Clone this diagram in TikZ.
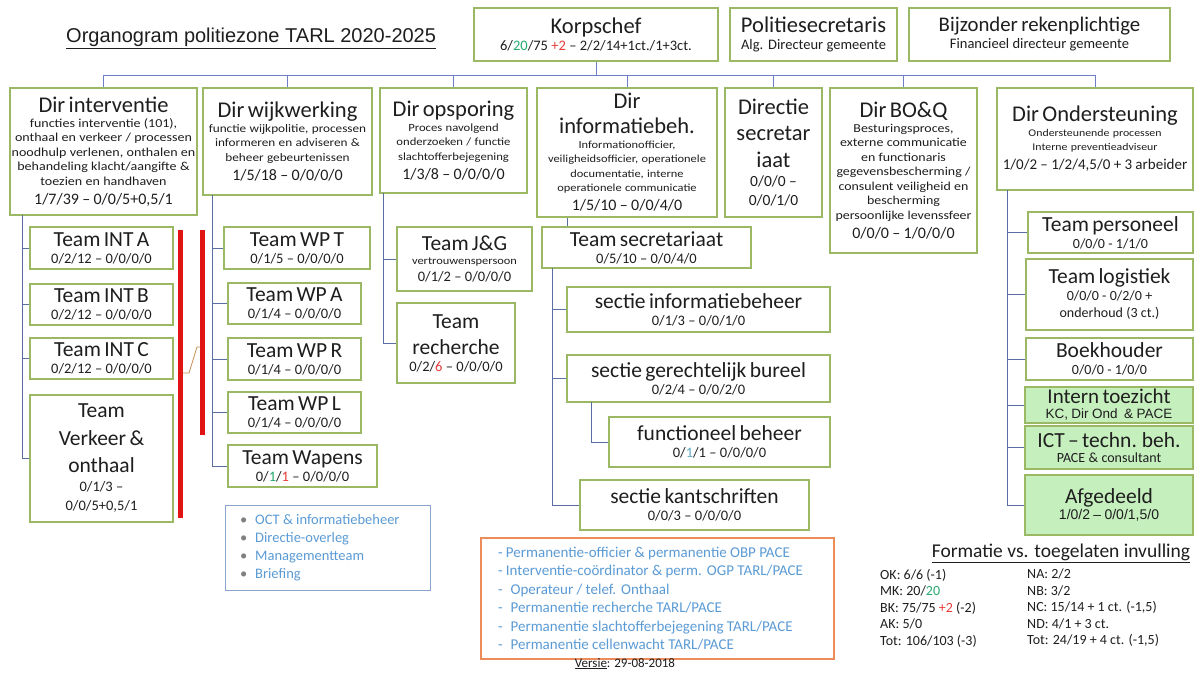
\documentclass[tikz,border=0pt]{standalone}
\usepackage{fontspec}
\setmainfont{Carlito}
\newfontfamily\arialf{Liberation Sans}
\newfontfamily\descf[FakeStretch=1.15]{Carlito}
\definecolor{boxc}{RGB}{155,185,100}
\definecolor{busc}{RGB}{110,125,200}
\definecolor{connc}{RGB}{90,110,160}
\definecolor{redbar}{RGB}{225,20,20}
\definecolor{grnfill}{RGB}{198,239,190}
\definecolor{bluet}{RGB}{91,155,213}
\definecolor{orangec}{RGB}{235,140,90}
\definecolor{blueboxc}{RGB}{140,165,205}
\definecolor{txt}{RGB}{30,30,30}
\definecolor{grn}{RGB}{40,170,110}
\definecolor{redt}{RGB}{230,60,60}
\definecolor{tealt}{RGB}{100,170,190}
\definecolor{brownl}{RGB}{200,140,80}
\tikzset{
  box/.style={draw=boxc, line width=1.1pt, fill=white, inner sep=0pt, align=center, text=txt},
  gbox/.style={box, fill=grnfill},
  bus/.style={draw=busc, line width=0.9pt},
  conn/.style={draw=connc, line width=0.8pt},
  plain/.style={inner sep=0pt, text=txt},
}
% #1 extra style, #2 name, #3 x1, #4 y1, #5 x2, #6 y2, #7 content
\newcommand\obox[7][]{%
  \pgfmathsetmacro\bw{#5-#3}\pgfmathsetmacro\bh{#6-#4}%
  \pgfmathsetmacro\bcx{(#3+#5)/2}\pgfmathsetmacro\bcy{(#4+#6)/2}%
  \pgfmathsetmacro\btw{#5-#3-2}%
  \node[box,minimum width=\bw pt,minimum height=\bh pt,text width=\btw pt,#1] (#2) at (\bcx,\bcy) {#7};}
\newcommand\tA[1]{{\fontsize{22.5}{26}\selectfont #1\par}}
\newcommand\tB[1]{{\fontsize{21.5}{25}\selectfont #1\par}}
\newcommand\dA[2][11.8]{{\descf\fontsize{#1}{14.5}\selectfont #2\par}}
\newcommand\nA[2][16]{{\fontsize{#1}{19}\selectfont #2\par}}
\newcommand\sB[1]{{\fontsize{14.5}{17}\selectfont #1\par}}
\begin{document}
\begin{tikzpicture}[x=1pt,y=-1pt]
\useasboundingbox[fill=white] (0,0) rectangle (1203,674);

\node[plain, anchor=base west, font=\arialf\fontsize{20}{23}\selectfont] (title) at (66,43) {\underline{Organogram politiezone TARL 2020-2025}};

% top row
\obox{korps}{474}{8}{718}{61}{\tA{Korpschef}\sB{6/\textcolor{grn}{20}/75 \textcolor{redt}{+2} – 2/2/14+1ct./1+3ct.}}
\obox{polsec}{730}{8}{897}{61}{\tA{Politiesecretaris}{\fontsize{14.5}{17}\selectfont Alg. Directeur gemeente\par}}
\obox{bijz}{909}{8}{1170}{61}{{\fontsize{20.8}{26}\selectfont Bijzonder rekenplichtige\par}{\fontsize{14.5}{17}\selectfont Financieel directeur gemeente\par}}

% directors
\obox{dint}{10}{88}{197}{215}{\tA{Dir interventie}\dA[12.2]{functies interventie (101),\\onthaal en verkeer / processen\\noodhulp verlenen, onthalen en\\behandeling klacht/aangifte \&\\toezien en handhaven}\nA{1/7/39 – 0/0/5+0,5/1}}
\obox{dwijk}{203}{88}{372}{195}{\tA{Dir wijkwerking}\dA[11.5]{functie wijkpolitie, processen\\informeren en adviseren \&\\beheer gebeurtenissen}\nA{1/5/18 – 0/0/0/0}}
\obox{dops}{380}{88}{527}{193}{\tA{Dir opsporing}\dA[11]{Proces navolgend\\onderzoeken / functie\\slachtofferbejegening}\nA{1/3/8 – 0/0/0/0}}
\obox{dinfo}{537}{88}{717}{217}{{\fontsize{22.5}{25}\selectfont Dir\\informatiebeh.\par}\dA[10.8]{Informationofficier,\\veiligheidsofficier, operationele\\documentatie, interne\\operationele communicatie}\nA{1/5/10 – 0/0/4/0}}
\obox{dsec}{725}{88}{822}{217}{{\fontsize{22.5}{26.5}\selectfont Directie\\secretar\\iaat\par}{\fontsize{15.5}{19}\selectfont 0/0/0 –\\0/0/1/0\par}}
\obox{dboq}{830}{88}{977}{253}{\tA{Dir BO\&Q}\dA[12.1]{Besturingsproces,\\externe communicatie\\en functionaris\\gegevensbescherming /\\consulent veiligheid en\\bescherming\\persoonlijke levenssfeer}\nA{0/0/0 – 1/0/0/0}}
\obox{dond}{997}{88}{1193}{190}{\tA{Dir Ondersteuning}\dA[10.3]{Ondersteunende processen\\Interne preventieadviseur}\nA[15]{1/0/2 – 1/2/4,5/0 + 3 arbeider}}

% bus
\coordinate (busy) at (0,75);
\draw[bus] (korps.south) -- (korps.south |- busy);
\draw[bus] (dint.north) -- (dint.north |- busy) -- (dond.north |- busy) -- (dond.north);
\foreach \n in {dwijk,dops,dinfo,dsec,dboq} \draw[bus] (\n.north) -- (\n.north |- busy);

% interventie teams
\obox{inta}{30}{227}{173}{269}{\tB{Team INT A}\sB{0/2/12 – 0/0/0/0}}
\obox{intb}{30}{284}{173}{325}{\tB{Team INT B}\sB{0/2/12 – 0/0/0/0}}
\obox{intc}{30}{338}{173}{379}{\tB{Team INT C}\sB{0/2/12 – 0/0/0/0}}
\obox{vko}{30}{395}{173}{522}{{\fontsize{21.5}{27.5}\selectfont Team\\Verkeer \&\\onthaal\par}{\fontsize{14.5}{19}\selectfont 0/1/3 –\\0/0/5+0,5/1\par}}
\coordinate (intx) at (22,215);
\draw[conn] (intx) |- (vko.west);
\foreach \n in {inta,intb,intc} \draw[conn] (intx |- \n.west) -- (\n.west);

% red bars
\fill[redbar] (178,230) rectangle (183,518);
\fill[redbar] (200,230) rectangle (205,435);
\coordinate (rl) at (183,373);
\coordinate (rr) at (200,347);
\draw[brownl, line width=0.8pt] (rl) -- ++(6,0) -- (197,347) -- (rr);

% wijkwerking teams
\obox{wpt}{224}{227}{370}{269}{\tB{Team WP T}\sB{0/1/5 – 0/0/0/0}}
\obox{wpa}{228}{283}{361}{324}{\tB{Team WP A}\sB{0/1/4 – 0/0/0/0}}
\obox{wpr}{228}{338}{361}{380}{\tB{Team WP R}\sB{0/1/4 – 0/0/0/0}}
\obox{wpl}{228}{392}{361}{433}{\tB{Team WP L}\sB{0/1/4 – 0/0/0/0}}
\obox{wpw}{228}{445}{377}{487}{\tB{Team Wapens}\sB{0/\textcolor{grn}{1}/\textcolor{redt}{1} – 0/0/0/0}}
\coordinate (wijkx) at (212,195);
\draw[conn] (wijkx) |- (wpw.west);
\foreach \n in {wpt,wpa,wpr,wpl} \draw[conn] (wijkx |- \n.west) -- (\n.west);

% bullet box
\obox[draw=blueboxc, line width=0.9pt, align=left, text width=175pt, text=bluet]{blist}{225}{505}{430}{590}{{\fontsize{14.5}{18}\selectfont
\textcolor{gray}{\textbullet}\hspace{8pt}OCT \& informatiebeheer\\
\textcolor{gray}{\textbullet}\hspace{8pt}Directie-overleg\\
\textcolor{gray}{\textbullet}\hspace{8pt}Managementteam\\
\textcolor{gray}{\textbullet}\hspace{8pt}Briefing\par}}

% opsporing teams
\obox{jg}{397}{227}{532}{291}{\tB{Team J\&G}\dA[10.8]{vertrouwenspersoon}\sB{0/1/2 – 0/0/0/0}}
\obox{rech}{397}{303}{515}{383}{{\fontsize{21.5}{26}\selectfont Team\\recherche\par}\sB{0/2/\textcolor{redt}{6} – 0/0/0/0}}
\coordinate (opsx) at (383,193);
\draw[conn] (opsx) |- (rech.west);
\draw[conn] (opsx |- jg.west) -- (jg.west);

% informatie teams
\obox{tsec}{542}{227}{751}{268}{\tB{Team secretariaat}\sB{0/5/10 – 0/0/4/0}}
\draw[conn] (dinfo.south -| 567,0) -- (tsec.north -| 567,0);
\obox{sinfo}{567}{287}{830}{332}{\tB{sectie informatiebeheer}\sB{0/1/3 – 0/0/1/0}}
\obox{sger}{567}{355}{830}{402}{\tB{sectie gerechtelijk bureel}\sB{0/2/4 – 0/0/2/0}}
\obox{fb}{609}{417}{830}{467}{\tB{functioneel beheer}\sB{0/\textcolor{tealt}{1}/1 – 0/0/0/0}}
\obox{skant}{580}{480}{809}{530}{\tB{sectie kantschriften}\sB{0/0/3 – 0/0/0/0}}
\coordinate (secx) at (552,268);
\draw[conn] (secx) |- (skant.west);
\foreach \n in {sinfo,sger} \draw[conn] (secx |- \n.west) -- (\n.west);
\coordinate (gerx) at (591,402);
\draw[conn] (gerx) |- (fb.west);

% ondersteuning teams
\obox{tpers}{1028}{212}{1193}{253}{\tB{Team personeel}{\fontsize{14}{17}\selectfont 0/0/0 - 1/1/0\par}}
\obox{tlog}{1026}{259}{1193}{330}{\tB{Team logistiek}{\fontsize{14}{17}\selectfont 0/0/0 - 0/2/0 +\\onderhoud (3 ct.)\par}}
\obox{boek}{1026}{338}{1193}{380}{\tB{Boekhouder}{\fontsize{14}{17}\selectfont 0/0/0 - 1/0/0\par}}
\obox[gbox]{itz}{1025}{387}{1193}{423}{{\fontsize{21}{22}\selectfont Intern toezicht\par}{\arialf\fontsize{13.5}{15}\selectfont KC, Dir Ond\ \ \& PACE\par}}
\obox[gbox]{ict}{1025}{426}{1193}{469}{\tB{ICT – techn. beh.}{\fontsize{14}{15}\selectfont PACE \& consultant\par}}
\obox[gbox]{afg}{1025}{475}{1193}{535}{\tB{Afgedeeld}{\arialf\fontsize{14}{16}\selectfont 1/0/2 – 0/0/1,5/0\par}}
\coordinate (ondx) at (1007,190);
\draw[conn] (ondx) |- (afg.west);
\foreach \n in {tpers,tlog,boek,itz,ict} \draw[conn] (ondx |- \n.west) -- (\n.west);

% permanence box
\obox[draw=orangec, line width=1.1pt, align=left, text width=319pt, text=bluet]{perm}{481}{538}{834}{659}{{\fontsize{15}{18.5}\selectfont
- Permanentie-officier \& permanentie OBP PACE\\
- Interventie-coördinator \& perm. OGP TARL/PACE\\
-\hspace{8pt}Operateur / telef. Onthaal\\
-\hspace{8pt}Permanentie recherche TARL/PACE\\
-\hspace{8pt}Permanentie slachtofferbejegening TARL/PACE\\
-\hspace{8pt}Permanentie cellenwacht TARL/PACE\par}}

\node[plain, anchor=base, font=\fontsize{13}{15}\selectfont] (versie) at (625,667) {\underline{Versie}: 29-08-2018};

% formatie
\node[plain, anchor=base, font=\fontsize{19.5}{22}\selectfont] (ftitle) at (1061,557) {\underline{Formatie vs. toegelaten invulling}};
\node[plain, anchor=north west, align=left, font=\fontsize{14}{16.5}\selectfont] (fleft) at (880,569) {OK: 6/6 (-1)\\MK: 20/\textcolor{grn}{20}\\BK: 75/75 \textcolor{redt}{+2} (-2)\\AK: 5/0\\Tot: 106/103 (-3)};
\node[plain, anchor=north west, align=left, font=\fontsize{14}{16.5}\selectfont] (fright) at (1027,569) {NA: 2/2\\NB: 3/2\\NC: 15/14 + 1 ct. (-1,5)\\ND: 4/1 + 3 ct.\\Tot: 24/19 + 4 ct. (-1,5)};
\end{tikzpicture}
\end{document}
